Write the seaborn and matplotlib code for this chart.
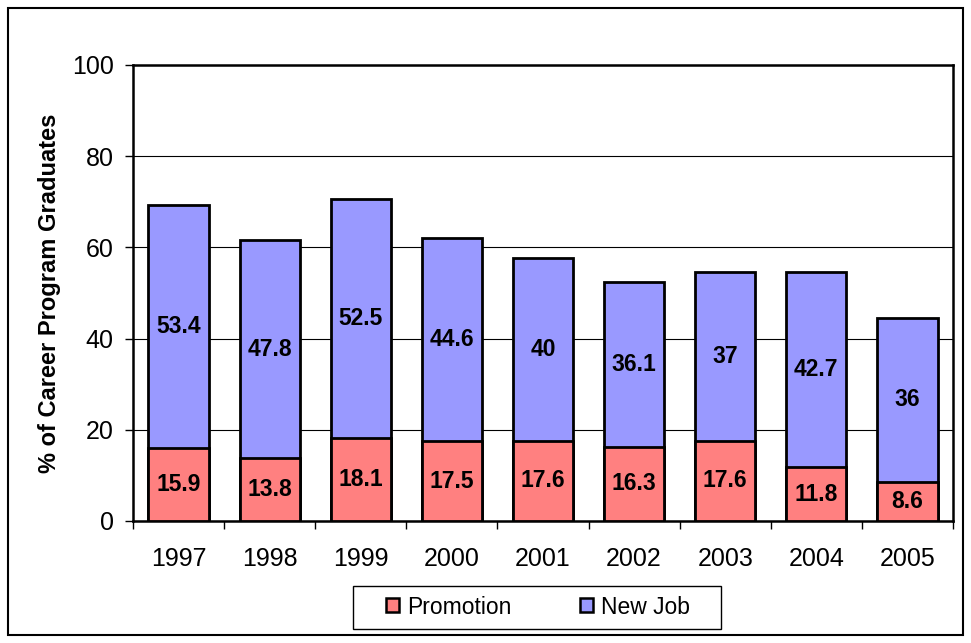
import matplotlib
matplotlib.use("Agg")
import matplotlib.pyplot as plt
import seaborn as sns
import pandas as pd
from matplotlib.patches import Rectangle

years = ["1997", "1998", "1999", "2000", "2001", "2002", "2003", "2004", "2005"]
promotion = [15.9, 13.8, 18.1, 17.5, 17.6, 16.3, 17.6, 11.8, 8.6]
new_job = [53.4, 47.8, 52.5, 44.6, 40, 36.1, 37, 42.7, 36]
new_job_labels = ["53.4", "47.8", "52.5", "44.6", "40", "36.1", "37", "42.7", "36"]
promotion_labels = ["15.9", "13.8", "18.1", "17.5", "17.6", "16.3", "17.6", "11.8", "8.6"]

sns.set_style("white")
plt.rcParams['font.family'] = ['Liberation Sans', 'DejaVu Sans']
plt.rcParams['text.color'] = 'black'

df = pd.DataFrame({"year": years, "promotion": promotion, "new_job": new_job})
df["total"] = df["promotion"] + df["new_job"]

c_promo = "#FF8080"
c_new = "#9999FF"

W, H = 971, 643
fig = plt.figure(figsize=(W / 100, H / 100), dpi=100)
ax = fig.add_axes([133 / W, 1 - 521 / H, (953 - 133) / W, (521 - 65) / H])

sns.barplot(data=df, x="year", y="total", color=c_new, saturation=1, width=0.66,
            edgecolor="black", linewidth=2, ax=ax, zorder=3)
sns.barplot(data=df, x="year", y="promotion", color=c_promo, saturation=1, width=0.66,
            edgecolor="black", linewidth=2, ax=ax, zorder=3)

new_cont = ax.containers[0]
promo_cont = ax.containers[1]
for i, bar in enumerate(new_cont):
    x = bar.get_x() + bar.get_width() / 2
    y = promotion[i] + new_job[i] / 2
    ax.text(x, y, new_job_labels[i], ha="center", va="center", fontsize=16.5,
            fontweight="bold", color="black", zorder=5)
ax.bar_label(promo_cont, labels=promotion_labels, label_type="center", fontsize=16.5,
             fontweight="bold", color="black", zorder=5)

ax.set_ylim(0, 100)
ax.set_xlim(-0.5, len(years) - 0.5)
ax.set_yticks([0, 20, 40, 60, 80, 100])
ax.yaxis.grid(True, color="black", linewidth=0.8, zorder=0)
ax.set_axisbelow(True)
for s in ax.spines.values():
    s.set_visible(True)
    s.set_color("black")
    s.set_linewidth(1.8)

ax.tick_params(axis="y", which="both", left=True, length=6, width=1, labelsize=18, pad=8,
               direction="out", labelcolor="black", color="black")
ax.set_xticks(range(len(years)))
ax.set_xticklabels(years, fontsize=18, color="black")
ax.tick_params(axis="x", length=0, pad=19)
ax.set_xticks([i - 0.5 for i in range(len(years) + 1)], minor=True)
ax.tick_params(axis="x", which="minor", bottom=True, length=6, width=1, direction="out",
               color="black")

ax.set_xlabel("")
ax.set_ylabel("% of Career Program Graduates", fontsize=17, fontweight="bold",
              labelpad=8, color="black")

handles = [Rectangle((0, 0), 1, 1, facecolor=c_promo, edgecolor="black", linewidth=1.8),
           Rectangle((0, 0), 1, 1, facecolor=c_new, edgecolor="black", linewidth=1.8)]
leg = fig.legend(handles, ["Promotion", "New Job"], ncol=2, loc="center",
                 bbox_to_anchor=(538 / W, 1 - 607 / H), fontsize=16.5,
                 frameon=False, labelcolor="black",
                 handlelength=0.55, handleheight=0.55, handletextpad=0.35,
                 columnspacing=3.0, borderpad=0, borderaxespad=0)

# legend frame
fig.patches.append(Rectangle((353 / W, 1 - 629 / H), (721 - 353) / W, (629 - 586) / H,
                             transform=fig.transFigure, fill=False,
                             edgecolor="black", linewidth=1))
# outer figure border
fig.patches.append(Rectangle((8 / W, 8 / H), 1 - 16 / W, 1 - 16 / H,
                             transform=fig.transFigure, fill=False,
                             edgecolor="black", linewidth=1.5))

fig.savefig("out.png", dpi=100)
